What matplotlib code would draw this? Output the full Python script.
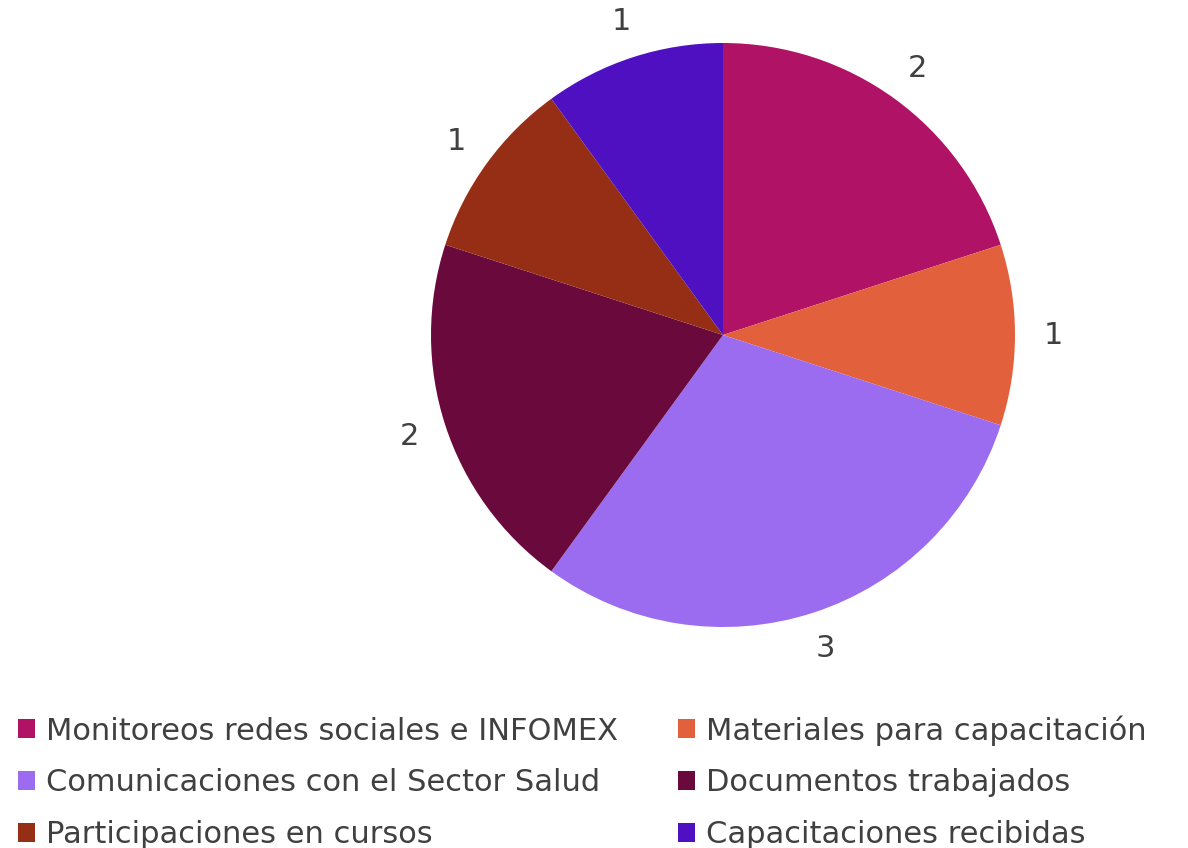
import matplotlib
matplotlib.use("Agg")
import matplotlib.pyplot as plt
from matplotlib.patches import Patch

categorias = ["Monitoreos redes sociales e INFOMEX", "Materiales para capacitación",
              "Comunicaciones con el Sector Salud", "Documentos trabajados",
              "Participaciones en cursos", "Capacitaciones recibidas"]
valores = [2, 1, 3, 2, 1, 1]
colores = ["#B01265", "#E3603C", "#9B6CF0", "#6A0A3C", "#962E15", "#4E10C0"]

plt.rcParams['font.family'] = ['DejaVu Sans']
gris = "#404040"

fig = plt.figure(figsize=(11.88, 8.48), dpi=100)
cx, cy, r = 723, 335, 292
ax = fig.add_axes([(cx - r) / 1188, 1 - (cy + r) / 848, 2 * r / 1188, 2 * r / 848])

wedges, textos = ax.pie(valores, colors=colores, startangle=90, counterclock=False,
                        labels=[str(v) for v in valores], labeldistance=1.13,
                        textprops={'fontsize': 22, 'color': gris})
for t in textos:
    t.set_ha('center')
    t.set_va('center')
ax.set_xlim(-1, 1)
ax.set_ylim(-1, 1)
ax.axis('off')

orden = [0, 2, 4, 1, 3, 5]
handles = [Patch(facecolor=colores[i], edgecolor='none') for i in orden]
etiquetas = [categorias[i] for i in orden]
fig.legend(handles, etiquetas, ncol=2, loc='upper left', bbox_to_anchor=(18 / 1188, 1 - 715 / 848),
           frameon=False, handlelength=0.55, handleheight=0.55, handletextpad=0.38,
           labelspacing=0.75, columnspacing=1.95, borderpad=0, borderaxespad=0,
           prop={'size': 22}, labelcolor=gris)

fig.savefig("out.png", dpi=100)
